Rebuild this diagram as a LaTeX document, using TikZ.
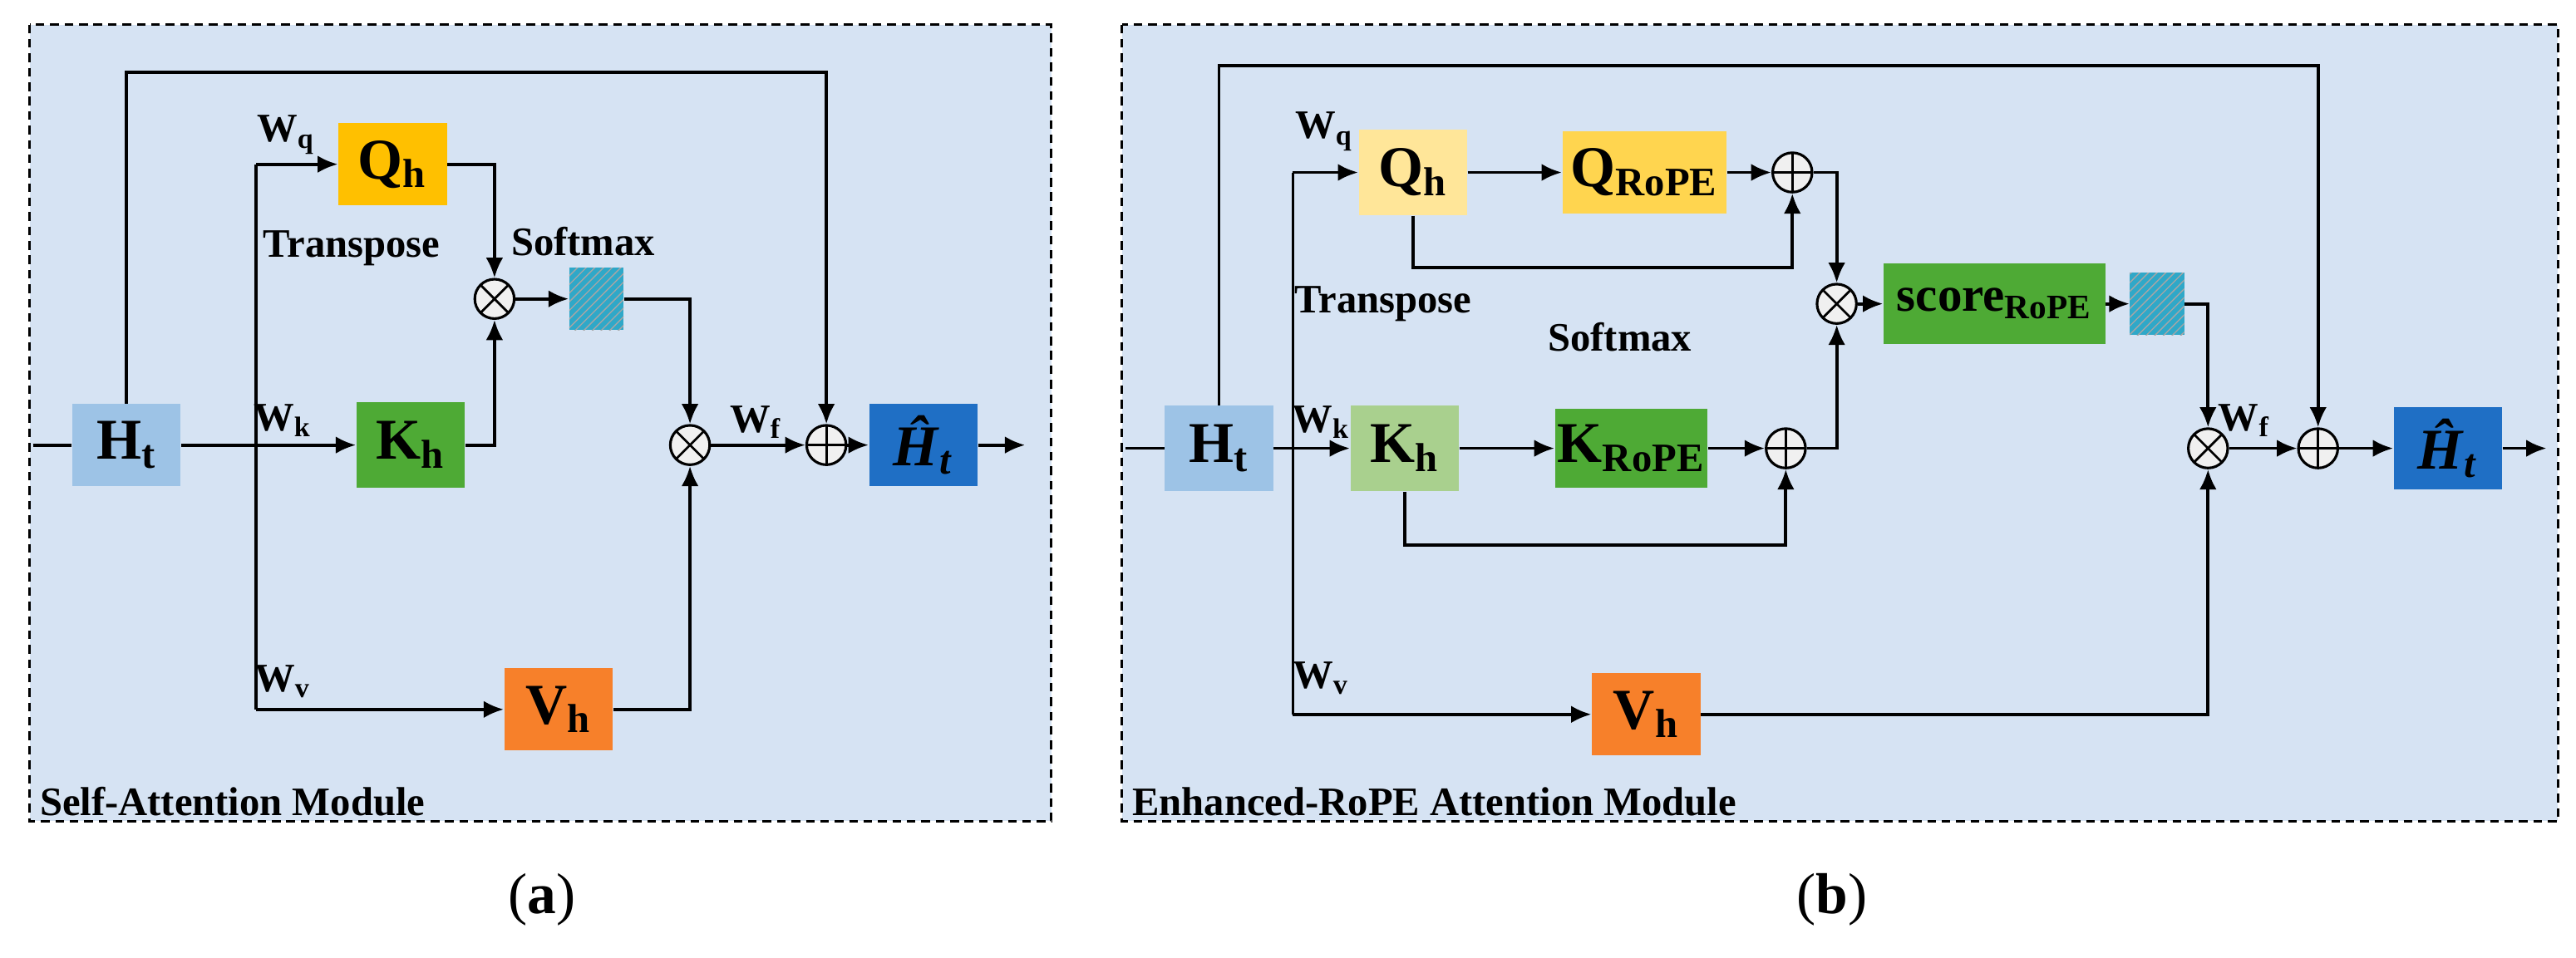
\documentclass[tikz,border=0pt]{standalone}
\usepackage{fontspec}
\setmainfont{Liberation Serif}
\usetikzlibrary{arrows.meta,patterns}
\definecolor{panel}{HTML}{D6E3F3}
\definecolor{hin}{HTML}{9DC3E6}
\definecolor{qa}{HTML}{FFC000}
\definecolor{gk}{HTML}{4EAA35}
\definecolor{vo}{HTML}{F7802A}
\definecolor{hout}{HTML}{1F6FC5}
\definecolor{qlight}{HTML}{FFE699}
\definecolor{qrope}{HTML}{FFD54F}
\definecolor{klight}{HTML}{A9D08E}
\definecolor{smx}{HTML}{2FA8C8}
\begin{document}
\begin{tikzpicture}[x=0.02cm,y=-0.02cm,
  ln/.style={line width=1.1pt},
  ar/.style={line width=1.1pt,-{Latex[length=7pt,width=6pt]}},
  bx/.style={inner sep=0,font=\bfseries\fontsize{20}{22}\selectfont},
  lab/.style={font=\bfseries\fontsize{14}{16}\selectfont,inner sep=0},
  sm/.style={minimum width=0.66cm,minimum height=0.76cm,inner sep=0,preaction={fill=smx},pattern=north east lines,pattern color=gray!70},
  opx/.style={circle,draw,line width=0.9pt,fill=gray!12,minimum size=0.48cm,inner sep=0,
    path picture={\draw[line width=0.8pt] (path picture bounding box.north east)--(path picture bounding box.south west)
      (path picture bounding box.north west)--(path picture bounding box.south east);}},
  opp/.style={circle,draw,line width=0.9pt,fill=gray!12,minimum size=0.48cm,inner sep=0,
    path picture={\draw[line width=0.8pt] (path picture bounding box.north)--(path picture bounding box.south)
      (path picture bounding box.west)--(path picture bounding box.east);}}]
\useasboundingbox (0,0) rectangle (1568,583);
% panels
\draw[line width=0.9pt,dash pattern=on 3pt off 2pt,fill=panel] (18,15) rectangle (640,500);
\draw[line width=0.9pt,dash pattern=on 3pt off 2pt,fill=panel] (683,15) rectangle (1557,500);
\node[lab,anchor=south west] (la) at (24,497) {Self-Attention Module};
\node[lab,anchor=south west] (lb) at (689,497) {Enhanced-RoPE Attention Module};
\node[font=\fontsize{20}{24}\selectfont] (ca) at (330,548) {(\textbf{a})};
\node[font=\fontsize{20}{24}\selectfont] (cb) at (1115,548) {(\textbf{b})};

% ---------- panel a ----------
\node[bx,fill=hin,minimum width=1.32cm,minimum height=1.0cm] (Ha) at (77,271) {H\textsubscript{t}};
\node[bx,fill=qa,minimum width=1.32cm,minimum height=1.0cm] (Qa) at (239,100) {Q\textsubscript{h}};
\node[bx,fill=gk,minimum width=1.32cm,minimum height=1.04cm] (Ka) at (250,271) {K\textsubscript{h}};
\node[bx,fill=vo,minimum width=1.32cm,minimum height=1.0cm] (Va) at (340,432) {V\textsubscript{h}};
\node[sm] (Sa) at (363,182) {};
\node[opx] (Xa1) at (301,182) {};
\node[opx] (Xa2) at (420,271) {};
\node[opp] (Pa) at (503,271) {};
\node[bx,fill=hout,minimum width=1.32cm,minimum height=1.0cm] (Hha) at (562,271) {\textit{Ĥ}\textsubscript{\textit{t}}};
\coordinate (ina) at (20,271);
\coordinate (outa) at (624,271);
\coordinate (ba1) at (156,100);
\coordinate (ba2) at (156,432);
\coordinate (ta) at (503,44);
\draw[ln] (ina)--(Ha.west);
\draw[ar] (Ha.east)--(Ka.west);
\draw[ln] (ba1)--(ba2);
\draw[ar] (ba1)--(Qa.west);
\draw[ar] (ba2)--(Va.west);
\draw[ar] (Qa.east)-|(Xa1.north);
\draw[ar] (Ka.east)-|(Xa1.south);
\draw[ar] (Xa1)--(Sa);
\draw[ar] (Sa.east)-|(Xa2.north);
\draw[ar] (Va.east)-|(Xa2.south);
\draw[ar] (Xa2)--(Pa);
\draw[ar] (Ha.north)|-(ta)--(Pa.north);
\draw[ar] (Pa)--(Hha);
\draw[ar] (Hha.east)--(outa);
\node[lab] (wqa) at (174,82) {W\textsubscript{q}};
\node[lab] (wka) at (172,256) {W\textsubscript{k}};
\node[lab] (wva) at (172,415) {W\textsubscript{v}};
\node[lab] (wfa) at (460,257) {W\textsubscript{f}};
\node[lab] (tra) at (214,151) {Transpose};
\node[lab] (sma) at (355,147) {Softmax};

% ---------- panel b ----------
\node[bx,fill=hin,minimum width=1.32cm,minimum height=1.04cm] (Hb) at (742,273) {H\textsubscript{t}};
\node[bx,fill=qlight,minimum width=1.32cm,minimum height=1.04cm] (Qb) at (860,105) {Q\textsubscript{h}};
\node[bx,fill=qrope,minimum width=2.0cm,minimum height=1.0cm] (QRb) at (1001,105) {Q\textsubscript{RoPE}};
\node[opp] (Pb1) at (1091,105) {};
\node[bx,fill=klight,minimum width=1.32cm,minimum height=1.04cm] (Kb) at (855,273) {K\textsubscript{h}};
\node[bx,fill=gk,minimum width=1.86cm,minimum height=0.96cm] (KRb) at (993,273) {K\textsubscript{RoPE}};
\node[opp] (Pb2) at (1087,273) {};
\node[opx] (Xb1) at (1118,185) {};
\node[bx,fill=gk,minimum width=2.7cm,minimum height=0.98cm,font=\bfseries\fontsize{17}{20}\selectfont] (Sc) at (1214,185) {score\textsubscript{RoPE}};
\node[sm] (Sb) at (1313,185) {};
\node[opx] (Xb2) at (1344,273) {};
\node[opp] (Pb3) at (1411,273) {};
\node[bx,fill=hout,minimum width=1.32cm,minimum height=1.0cm] (Hhb) at (1490,273) {\textit{Ĥ}\textsubscript{\textit{t}}};
\node[bx,fill=vo,minimum width=1.32cm,minimum height=1.0cm] (Vb) at (1002,435) {V\textsubscript{h}};
\coordinate (inb) at (685,273);
\coordinate (outb) at (1550,273);
\coordinate (bb1) at (787,105);
\coordinate (bb2) at (787,435);
\coordinate (tb) at (1411,40);
\coordinate (lq) at (860,163);
\coordinate (lk) at (855,332);
\draw[ln] (inb)--(Hb.west);
\draw[ar] (Hb.east)--(Kb.west);
\draw[ln] (bb1)--(bb2);
\draw[ar] (bb1)--(Qb.west);
\draw[ar] (bb2)--(Vb.west);
\draw[ar] (Qb)--(QRb);
\draw[ar] (QRb)--(Pb1);
\draw[ar] (Qb.south)--(lq)-|(Pb1.south);
\draw[ar] (Kb)--(KRb);
\draw[ar] (KRb)--(Pb2);
\draw[ar] (Kb.south)--(lk)-|(Pb2.south);
\draw[ar] (Pb1.east)-|(Xb1.north);
\draw[ar] (Pb2.east)-|(Xb1.south);
\draw[ar] (Xb1)--(Sc);
\draw[ar] (Sc)--(Sb);
\draw[ar] (Sb.east)-|(Xb2.north);
\draw[ar] (Vb.east)-|(Xb2.south);
\draw[ar] (Xb2)--(Pb3);
\draw[ar] (Hb.north)|-(tb)--(Pb3.north);
\draw[ar] (Pb3)--(Hhb);
\draw[ar] (Hhb.east)--(outb);
\node[lab] (wqb) at (806,80) {W\textsubscript{q}};
\node[lab] (wkb) at (804,257) {W\textsubscript{k}};
\node[lab] (wvb) at (804,413) {W\textsubscript{v}};
\node[lab] (wfb) at (1366,256) {W\textsubscript{f}};
\node[lab] (trb) at (842,185) {Transpose};
\node[lab] (smb) at (986,205) {Softmax};
\end{tikzpicture}
\end{document}
